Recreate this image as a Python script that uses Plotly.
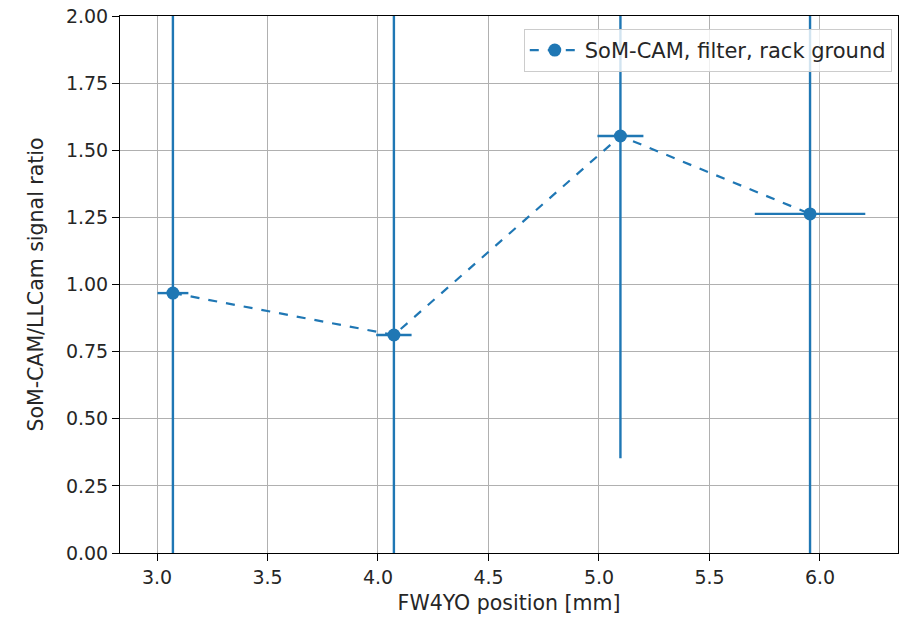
import plotly.graph_objects as go

positions = [3.072, 4.072, 5.097, 5.955]
ratios = [0.968, 0.812, 1.553, 1.263]
x_err = [0.07, 0.08, 0.104, 0.25]
y_err = [3.0, 3.0, 1.2, 3.0]
series_name = "SoM-CAM, filter, rack ground"
x_ticks = [3.0, 3.5, 4.0, 4.5, 5.0, 5.5, 6.0]
y_ticks = [0.0, 0.25, 0.5, 0.75, 1.0, 1.25, 1.5, 1.75, 2.0]

blue = "#1f77b4"
fig = go.Figure()
fig.add_trace(go.Scatter(
    x=positions, y=ratios, name=series_name, mode="lines+markers",
    line=dict(color=blue, width=2.2, dash="dash"),
    marker=dict(color=blue, size=13),
    error_x=dict(type="data", array=x_err, color=blue, thickness=2.4, width=0),
    error_y=dict(type="data", array=y_err, color=blue, thickness=2.4, width=0),
    showlegend=True,
))

axis_common = dict(
    showgrid=True, gridcolor="#b0b0b0", gridwidth=1,
    showline=True, linecolor="black", linewidth=1, mirror=True,
    ticks="outside", ticklen=7, tickcolor="black", tickwidth=1,
    tickfont=dict(family="DejaVu Sans", size=19, color="#262626"),
    zeroline=False,
)
fig.update_layout(
    width=900, height=622,
    margin=dict(l=120, r=2, t=16, b=69),
    plot_bgcolor="white", paper_bgcolor="white",
    font=dict(family="DejaVu Sans", size=20, color="#262626"),
    xaxis=dict(range=[2.8326, 6.353], tickvals=x_ticks, tickformat=".1f",
               title=dict(text="FW4YO position [mm]", font=dict(size=20.5), standoff=8),
               **axis_common),
    yaxis=dict(range=[0, 2.0], tickvals=y_ticks, tickformat=".2f",
               title=dict(text="SoM-CAM/LLCam signal ratio", font=dict(size=20.5), standoff=16),
               **axis_common),
    legend=dict(x=0.992, y=0.976, xanchor="right", yanchor="top",
                bgcolor="rgba(255,255,255,0.8)", bordercolor="#cccccc", borderwidth=1,
                font=dict(size=21), itemwidth=50),
)
fig.write_html("out.html")
